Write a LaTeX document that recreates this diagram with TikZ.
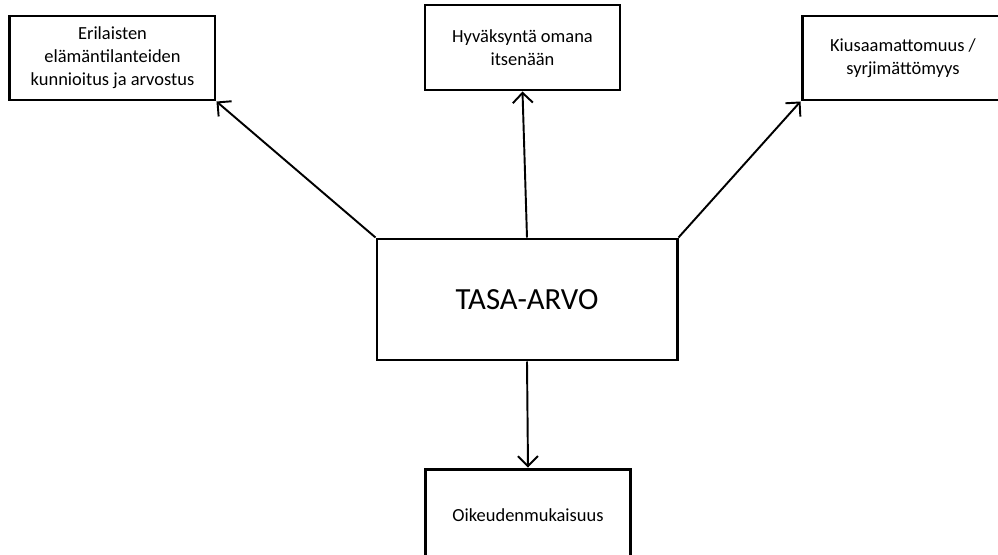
\documentclass[tikz,border=0pt]{standalone}
\usepackage{fontspec}
\setmainfont{Carlito}
\usetikzlibrary{arrows.meta,positioning}

\begin{document}
\begin{tikzpicture}
    \tikzstyle{arrow} = [line width = 1.1pt, -{Straight Barb[length=2mm, width=4mm, line width=1.1pt]}]
    \tikzstyle{box} = [rectangle, line width = 1.7pt, draw = black, align = center, inner sep = 0pt, font = \fontsize{10.5}{13}\selectfont]
    \clip (-10.54,5.99) rectangle (9.42,-5.09);

    \node[box, minimum width = 6cm, minimum height = 2.42cm, font = \fontsize{17.5}{20}\selectfont](TASA){TASA-ARVO};

    \node[box, above of = TASA, yshift = 4.04cm, xshift = -0.09cm, minimum width = 3.9cm, minimum height = 1.7cm](Hyv){Hyväksyntä omana\\itsenään};
    \node[box, above of = TASA, yshift = 3.83cm, xshift = -8.29cm, minimum width = 4.1cm, minimum height = 1.68cm](Eri){Erilaisten\\elämäntilanteiden\\kunnioitus ja arvostus};
    \node[box, above of = TASA, yshift = 3.83cm, xshift = 7.52cm, minimum width = 4.04cm, minimum height = 1.68cm](Kiu){Kiusaamattomuus /\\syrjimättömyys};
    \node[box, below of = TASA, yshift = -3.31cm, xshift = 0.02cm, minimum width = 4.1cm, minimum height = 1.84cm](Oik){Oikeudenmukaisuus};

    \draw[arrow] (TASA.north west)--(Eri.south east);
    \draw[arrow] (TASA.north)--(Hyv.south);
    \draw[arrow] (TASA.north east)--(Kiu.south west);
    \draw[arrow] (TASA.south)--(Oik.north);

\end{tikzpicture}
\end{document}
